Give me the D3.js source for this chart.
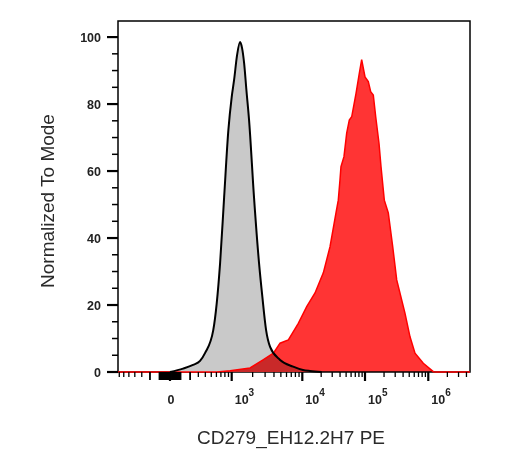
<!DOCTYPE html>
<html>
<head>
<meta charset="utf-8">
<script src="https://cdn.jsdelivr.net/npm/d3@7"></script>
<style>
  body { margin: 0; background: #fff; }
  text { font-family: Arial, "Liberation Sans", sans-serif; }
</style>
</head>
<body>
<div id="chart"></div>
<script>
// control histogram (grey): fluorescence value -> % of mode
const greyX = [0, 125, 234, 323, 397, 537, 681, 780, 897, 1000, 1084, 1197, 1323, 1413, 1512, 1630,
  1779, 2090, 2463, 2745, 3098, 3527, 4874, 7440, 10260, 13270, 20380];
const greyY = [0, 1.0, 2.1, 3.3, 5.7, 12.5, 32.5, 52.2, 72.2, 82.1, 87.2, 94.6, 98.5, 96.7, 92.2, 84.2,
  75.2, 52.2, 32.5, 22.4, 12.5, 7.5, 3.6, 1.6, 0.6, 0.3, 0];

// stained sample (red)
const redX = [-731, 608, 950, 1837, 2808, 3930, 4874, 6370, 8790, 11750, 15960, 21640, 27680, 34460,
  37500, 39900, 41400, 46200, 51060, 56200, 61400, 71950, 81150, 88500, 100000, 112700, 123000,
  135200, 147600, 166400, 179100, 201900, 233400, 274200, 317000, 428700, 514200, 616700, 834000,
  1200000, 1330000, 4550000];
const redY = [0, 0, 0.4, 1.2, 3.6, 5.6, 8.6, 9.6, 14.5, 19.5, 23.6, 29.6, 37.4, 47.5,
  51.3, 57.3, 61.3, 64.3, 71.3, 75.2, 76.2, 83.2, 89.2, 93.3, 88.1, 86.7, 83.7,
  82.7, 76.2, 68.3, 61.3, 51.3, 47.5, 37.4, 27.5, 17.5, 10.5, 5.6, 2.6,
  0.1, 0, 0];

// biexponential axis: break values and where they sit along the axis (fraction of width)
const xBreaks = [-731, 0, 1e3, 1e4, 1e5, 1e6, 4.55e6];
const xBreakPos = [0, 0.1477, 0.323, 0.5236, 0.7017, 0.8815, 1];
const xMajor = [0, 1e3, 1e4, 1e5, 1e6];
const xMajorExp = [null, 3, 4, 5, 6];

const yTicks = d3.range(0, 101, 5);
const yLabels = [0, 20, 40, 60, 80, 100];

const xTitle = "CD279_EH12.2H7 PE";
const yTitle = "Normalized To Mode";

const W = 511, H = 466;
const margin = { top: 21, right: 41, bottom: 94, left: 118 };
const width = W - margin.left - margin.right;
const height = H - margin.top - margin.bottom;

const svg = d3.select("#chart").append("svg")
  .attr("width", W).attr("height", H);
const g = svg.append("g").attr("transform", `translate(${margin.left},${margin.top})`);

// asinh-type transform, then a piecewise linear map to pixels
const T = v => Math.asinh(v / 300) / Math.LN10;
const xT = d3.scaleLinear()
  .domain(xBreaks.map(T))
  .range(xBreakPos.map(f => f * width));
const x = v => xT(T(v));

const y = d3.scaleLinear().domain([0, 104.8]).range([height, 0]);

const greyData = greyX.map((v, i) => [v, greyY[i]]);
const redData = redX.map((v, i) => [v, redY[i]]);

const area = d3.area()
  .x(d => x(d[0])).y0(height).y1(d => y(d[1]))
  .curve(d3.curveMonotoneX);
const line = d3.line()
  .x(d => x(d[0])).y(d => y(d[1]))
  .curve(d3.curveMonotoneX);

// frame
g.append("rect")
  .attr("width", width).attr("height", height)
  .attr("fill", "none").attr("stroke", "#000").attr("stroke-width", 1.5);

g.append("path").datum(greyData).attr("d", area).attr("fill", "#c9c9c9");
g.append("path").datum(redData).attr("d", area.curve(d3.curveLinear))
  .attr("fill", "#ff3434").style("mix-blend-mode", "multiply");
g.append("path").datum(redData).attr("d", line.curve(d3.curveLinear))
  .attr("fill", "none").attr("stroke", "#ff0000").attr("stroke-width", 1.5);
g.append("path").datum(greyData).attr("d", line.curve(d3.curveMonotoneX))
  .attr("fill", "none").attr("stroke", "#000").attr("stroke-width", 2)
  .attr("stroke-linejoin", "round");

// y axis ticks
g.selectAll(".ytick").data(yTicks).enter().append("line")
  .attr("x1", d => yLabels.includes(d) ? -11 : -6).attr("x2", 0)
  .attr("y1", d => y(d)).attr("y2", d => y(d))
  .attr("stroke", "#000")
  .attr("stroke-width", d => yLabels.includes(d) ? 2.2 : 1.5);

g.selectAll(".ylab").data(yLabels).enter().append("text")
  .attr("x", -17).attr("y", d => y(d)).attr("dy", "0.36em")
  .attr("text-anchor", "end")
  .attr("font-size", 12.5).attr("font-weight", "bold").attr("fill", "#222")
  .text(d => d);

// x axis ticks
const minor = [];
[10, 100].forEach(s => d3.range(1, 10).forEach(k => { minor.push(-k * s); }));
[10, 100, 1e3, 1e4, 1e5, 1e6].forEach(s => d3.range(1, 10).forEach(k => { minor.push(k * s); }));
const xMinor = minor.filter(v => !xMajor.includes(v) && T(v) >= T(xBreaks[0]) && T(v) <= T(xBreaks[xBreaks.length - 1]));

g.selectAll(".xminor").data(xMinor).enter().append("line")
  .attr("x1", d => x(d)).attr("x2", d => x(d))
  .attr("y1", height).attr("y2", d => height + (Math.abs(d) <= 200 ? 8 : 5))
  .attr("stroke", "#000").attr("stroke-width", d => Math.abs(d) <= 200 ? 1.8 : 1.3);

g.selectAll(".xmajor").data(xMajor).enter().append("line")
  .attr("x1", d => x(d)).attr("x2", d => x(d))
  .attr("y1", height).attr("y2", height + 9)
  .attr("stroke", "#000").attr("stroke-width", 2.2);

const xl = g.selectAll(".xlab").data(xMajor).enter().append("text")
  .attr("y", height + 32)
  .attr("font-size", 12.5).attr("font-weight", "bold").attr("fill", "#222");
xl.each(function (d, i) {
  const t = d3.select(this);
  if (xMajorExp[i] === null) {
    t.attr("x", x(d) + 1).attr("text-anchor", "middle").text("0");
  } else {
    t.attr("x", x(d) + 3).attr("text-anchor", "start");
    t.append("tspan").text("10");
    t.append("tspan").attr("dy", -8).attr("font-size", 10).text(xMajorExp[i]);
  }
});

// titles
g.append("text")
  .attr("x", width / 2 - 3).attr("y", height + 72)
  .attr("text-anchor", "middle").attr("font-size", 19).attr("fill", "#2a2a2a")
  .text(xTitle);
g.append("text")
  .attr("transform", `translate(${54 - margin.left},${201 - margin.top}) rotate(-90)`)
  .attr("text-anchor", "middle").attr("font-size", 19).attr("fill", "#2a2a2a")
  .text(yTitle);
</script>
</body>
</html>
